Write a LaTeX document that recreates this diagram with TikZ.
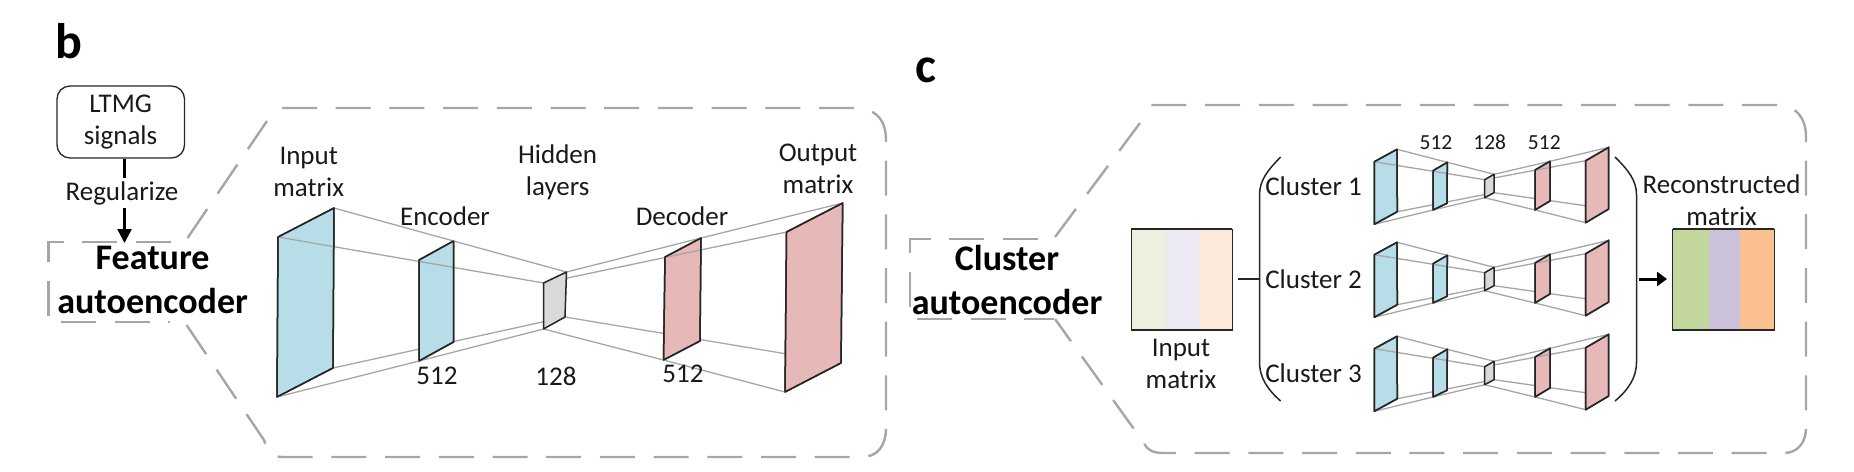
\documentclass[tikz,border=0pt]{standalone}
\usepackage{fontspec}
\setmainfont{Carlito}
\usetikzlibrary{arrows.meta,calc}
\definecolor{bluefill}{HTML}{B7DEE8}
\definecolor{redfill}{HTML}{E6B9B8}
\definecolor{greyfill}{HTML}{D9D9D9}
\definecolor{linkgrey}{HTML}{A6A6A6}
\definecolor{dashgrey}{HTML}{A6A6A6}
\definecolor{edgedark}{HTML}{262626}
\definecolor{ilA}{HTML}{EBF1DE}
\definecolor{ilB}{HTML}{EDE9F2}
\definecolor{ilC}{HTML}{FDEADA}
\definecolor{olA}{HTML}{C3D69B}
\definecolor{olB}{HTML}{CCC1DA}
\definecolor{olC}{HTML}{FAC090}
\tikzset{
  x=1pt,y=-1pt,
  lbl/.style={inner sep=0pt,align=center,text=black!90,font=\fontsize{27}{32}\selectfont},
  smalllbl/.style={inner sep=0pt,text=black!90,font=\fontsize{21.5}{24}\selectfont},
  titlelbl/.style={inner sep=0pt,align=center,font=\fontsize{36}{44}\selectfont\bfseries},
  letterlbl/.style={inner sep=0pt,font=\fontsize{50}{50}\selectfont\bfseries},
  link/.style={draw=linkgrey,line width=1.3pt},
  pane/.style={draw=edgedark,line width=1.5pt,line join=round},
  groupdash/.style={draw=dashgrey,line width=2.4pt,dash pattern=on 35pt off 18.7pt},
  paren/.style={draw=edgedark,line width=1.5pt},
}
% #1 = prefix; layers a..e, corners 1 front-top, 2 back-top, 3 back-bottom, 4 front-bottom
\newcommand{\layercoords}[6]{%
  \coordinate (#1#21) at #3;\coordinate (#1#22) at #4;\coordinate (#1#23) at #5;\coordinate (#1#24) at #6;}
\newcommand{\layerface}[3]{\path[pane,fill=#3] (#1#21)--(#1#22)--(#1#23)--(#1#24)--cycle;}
\newcommand{\layeredge}[2]{\path[pane] (#1#21)--(#1#22)--(#1#23)--(#1#24)--cycle;}
\newcommand{\drawnet}[1]{%
  \draw[link] (#1a3)--(#1c3);
  \draw[link] (#1c3)--(#1e3);
  \layerface{#1}{a}{bluefill}\layerface{#1}{b}{bluefill}
  \layerface{#1}{d}{redfill}\layerface{#1}{e}{redfill}
  \draw[link] (#1a2)--(#1b2)--(#1c2);
  \draw[link] (#1a1)--(#1c1);
  \draw[link] (#1a4)--(#1b4)--(#1c4);
  \draw[link] (#1c2)--(#1d2)--(#1e2);
  \draw[link] (#1c1)--(#1e1);
  \draw[link] (#1c4)--(#1d4)--(#1e4);
  \layeredge{#1}{a}\layeredge{#1}{b}\layeredge{#1}{d}\layeredge{#1}{e}
  \layerface{#1}{c}{greyfill}}
\newcommand{\mininet}[2]{%
  \begin{scope}[shift={(0,#2)}]
  \layercoords{#1}{a}{(1374.3,161.7)}{(1397,149.3)}{(1397.3,211.7)}{(1374.3,224.3)}
  \layercoords{#1}{b}{(1433,170.7)}{(1447.3,162.3)}{(1447,203.3)}{(1433,210)}
  \layercoords{#1}{c}{(1484.7,179.7)}{(1494,174.3)}{(1494,192.7)}{(1484.7,197.7)}
  \layercoords{#1}{d}{(1535,170)}{(1550,161.3)}{(1550,201)}{(1535,210)}
  \layercoords{#1}{e}{(1585.7,160.7)}{(1608.7,147.3)}{(1608.7,209)}{(1585.7,222.7)}
  \end{scope}
  \drawnet{#1}}
\begin{document}
\begin{tikzpicture}
\useasboundingbox (0,0) rectangle (1854,471);

% ---------- panel b
\node[letterlbl] (letb) at (69,41) {b};
\node[draw=edgedark,line width=1.3pt,rounded corners=13pt,minimum width=127.5pt,minimum height=72pt,inner sep=0pt] (ltmg) at (120.75,122) {};
\node[lbl] (ltmgtxt) at (120.6,122) {LTMG\\signals};
\node[lbl] (regularize) at (122,193) {Regularize};
\node[titlelbl] (feature) at (152.6,280) {Feature\\autoencoder};
\coordinate (regin) at (124.5,178);
\coordinate (regout) at (124.5,208);
\coordinate (feattop) at (124.5,243);
\draw[line width=2.6pt,draw=black] (ltmg.south -| regin) -- (regin);
\draw[line width=2.6pt,draw=black,-{Triangle[length=14pt,width=14pt]}] (regout) -- (feattop);

% dashed enclosure b
\draw[groupdash] (171,242) -- (48.5,242) -- (48.5,322) -- (170,322);
\draw[groupdash] (187.5,238) -- (267,121);
\draw[groupdash] (282,108) -- (854,108) .. controls (876,108) and (886,120) .. (886,140) -- (886,428) .. controls (886,445) and (878,457) .. (862,457) -- (282,457) .. controls (272,457) and (267,450) .. (264,440) -- (184.5,322);

\layercoords{f}{a}{(278,237)}{(334,208)}{(333,368)}{(277,397)}
\layercoords{f}{b}{(419,260)}{(453.5,241)}{(453.5,342)}{(419,361)}
\layercoords{f}{c}{(543.5,283)}{(566.5,272)}{(565,317)}{(543.5,329)}
\layercoords{f}{d}{(665,257)}{(701,238)}{(700,341)}{(663.5,360)}
\layercoords{f}{e}{(786.5,232)}{(842.7,203)}{(841,363)}{(785,392)}
\drawnet{f}

\node[lbl] (inmat) at (308.7,172) {Input\\matrix};
\node[lbl] (enc) at (445,216) {Encoder};
\node[lbl] (hid) at (557.6,172) {Hidden\\layers};
\node[lbl] (dec) at (682,216) {Decoder};
\node[lbl] (outmat) at (818,169) {Output\\matrix};
\node[lbl] (nA) at (437,376) {512};
\node[lbl] (nB) at (556,376) {128};
\node[lbl] (nC) at (683,374) {512};

% ---------- panel c
\node[letterlbl] (letc) at (926,70) {c};
\node[titlelbl] (cluster) at (1007,280) {Cluster\\autoencoder};
\draw[groupdash] (1038,239) -- (910,239) -- (910,319) -- (1054,319);
\draw[groupdash] (1055,237) -- (1140,123);
\draw[groupdash] (1151.4,105) -- (1777.5,105) .. controls (1796,105) and (1806,118) .. (1806,137) -- (1806,428) .. controls (1806,442) and (1798,453) .. (1784,453) -- (1163,453) .. controls (1153,453) and (1147,450) .. (1144,443) -- (1055,319);

% input matrix
\path[fill=ilA] (1131,229) rectangle (1166,330);
\path[fill=ilB] (1166,229) rectangle (1199,330);
\path[fill=ilC] (1199,229) rectangle (1232,330);
\draw[edgedark,line width=0.7pt] (1131,229) rectangle (1232,330);
\draw[edgedark,line width=1.5pt] (1131,229) -- (1232,229) (1131,330) -- (1232,330);
\coordinate (inR) at (1238,279);
\coordinate (parL) at (1259,279);
\draw[draw=edgedark,line width=1.4pt] (inR) -- (parL);
\node[lbl] (cinmat) at (1181,364) {Input\\matrix};

% brackets
\draw[paren] (1280.6,157) .. controls (1268,170) and (1259.5,180) .. (1259.5,195) -- (1259.5,362) .. controls (1259.5,378) and (1268,390) .. (1280.6,401);
\draw[paren] (1615,157) .. controls (1628,170) and (1636.5,180) .. (1636.5,195) -- (1636.5,362) .. controls (1636.5,378) and (1628,390) .. (1615,401);

\node[lbl] (cl1) at (1313.5,186) {Cluster 1};
\node[lbl] (cl2) at (1313.5,279) {Cluster 2};
\node[lbl] (cl3) at (1313.5,373) {Cluster 3};

\mininet{m}{0}
\mininet{n}{93}
\mininet{p}{187}

\node[smalllbl] (mA) at (1436,142.7) {512};
\node[smalllbl] (mB) at (1489.7,142.7) {128};
\node[smalllbl] (mC) at (1544.3,142.7) {512};

% arrow
\coordinate (parR) at (1639,279);
\coordinate (reconL) at (1667,279);
\draw[line width=3pt,draw=black,-{Triangle[length=10pt,width=14pt]}] (parR) -- (reconL);
\node[lbl] (recon) at (1721.6,200.5) {Reconstructed\\matrix};

% reconstructed matrix
\path[fill=olA] (1672.5,229) rectangle (1708.6,330);
\path[fill=olB] (1708.6,229) rectangle (1740,330);
\path[fill=olC] (1740,229) rectangle (1774,330);
\draw[edgedark,line width=0.7pt] (1672.5,229) rectangle (1774,330);
\draw[edgedark,line width=1.5pt] (1672.5,229) -- (1774,229) (1672.5,330) -- (1774,330);
\end{tikzpicture}
\end{document}
